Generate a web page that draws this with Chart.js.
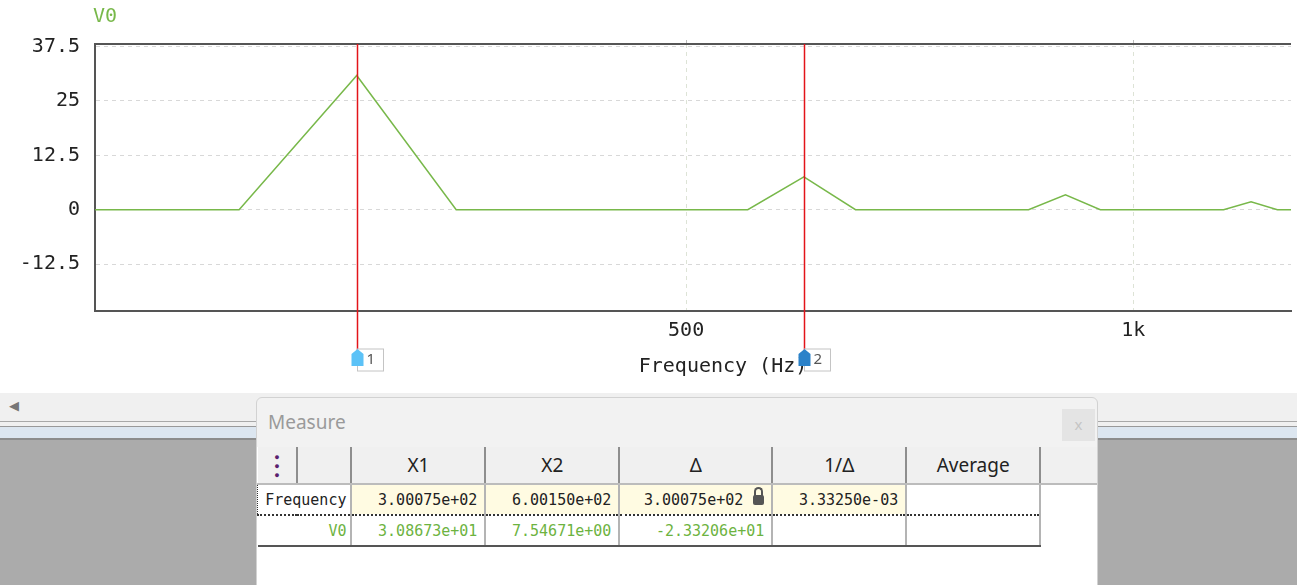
<!DOCTYPE html>
<html>
<head>
<meta charset="utf-8">
<script src="https://cdn.jsdelivr.net/npm/chart.js@4.4.1/dist/chart.umd.min.js"></script>
<style>
    body { margin: 0; width: 1297px; height: 585px; overflow: hidden; background: #fff; position: relative; font-family: 'Noto Sans', sans-serif; }
    #plot { position: absolute; left: 0; top: 0; }
    #strip { position: absolute; left: 0; top: 393px; width: 1297px; height: 47px; background: #f0f0f0; }
    #strip .arrow { position: absolute; left: 9px; top: 3px; color: #777; font-size: 13px; }
    #strip .l1 { position: absolute; left: 0; top: 28px; width: 100%; height: 1px; background: #a8a8a8; }
    #strip .l2 { position: absolute; left: 0; top: 33px; width: 100%; height: 1px; background: #999; }
    #strip .blue { position: absolute; left: 0; top: 34px; width: 100%; height: 11px; background: #dce6f0; }
    #strip .l3 { position: absolute; left: 0; top: 45px; width: 100%; height: 2px; background: #8c8c8c; }
    #greybg { position: absolute; left: 0; top: 440px; width: 1297px; height: 145px; background: #ababab; }
    #dialog { position: absolute; left: 256px; top: 397px; width: 840px; height: 200px; background: #f2f2f2; border: 1px solid #d2d2d2; border-radius: 6px 6px 0 0; }
    #dialog .title { position: absolute; left: 11px; top: 11px; font-size: 19px; color: #9a9a9a; }
    #dialog .close { position: absolute; left: 805px; top: 11px; width: 33px; height: 32px; background: #e4e4e4; color: #c4c4c4; font-size: 15px; text-align: center; line-height: 30px; }
    #tableArea { position: absolute; left: 0; top: 49px; width: 840px; height: 150px; background: #fff; }
    table { border-collapse: collapse; table-layout: fixed; position: absolute; left: 0; top: 0; }
    th { height: 36px; background: #f0f0f0; font-weight: normal; font-size: 19px; color: #222; border-right: 2px solid #8e8e8e; border-bottom: 2px solid #bcbcbc; padding: 0; }
    td { height: 29px; font-family: 'DejaVu Sans Mono', monospace; font-size: 15px; text-align: right; padding: 0 7px 0 0; border-right: 2px solid #b4b4b4; white-space: nowrap; position: relative; }
    tr.r1 td { background: #fffbe2; color: #222; border-top: 1px dotted #333; border-bottom: 2px dotted #333; }
    tr.r1 td.name, tr.r1 td.blank { background: #fff; }
    tr.r1 td.name { padding-right: 4px; border-left: 1px dotted #333; }
    tr.r2 td { color: #6db33f; border-bottom: 2px solid #555; }
    tr.r2 td.name { padding-right: 4px; }
    .dots { color: #5a1f6e; font-size: 9px; line-height: 9px; }
    .lock { position: absolute; right: 7px; top: 10px; width: 11px; height: 10px; background: #555; border-radius: 2px; }
    .lock:before { content: ''; position: absolute; left: 1px; top: -8px; width: 5px; height: 7px; border: 2px solid #555; border-bottom: none; border-radius: 5px 5px 0 0; }
</style>
</head>
<body>
<canvas id="plot" width="1297" height="393"></canvas>

<div id="strip">
    <div class="arrow">&#9664;</div>
    <div class="l1"></div>
    <div class="l2"></div>
    <div class="blue"></div>
    <div class="l3"></div>
</div>
<div id="greybg"></div>

<div id="dialog">
    <div class="title">Measure</div>
    <div class="close">x</div>
    <div id="tableArea">
        <table>
            <colgroup>
                <col style="width:40px"><col style="width:54px"><col style="width:134px"><col style="width:134px">
                <col style="width:153px"><col style="width:134px"><col style="width:134px"><col style="width:57px">
            </colgroup>
            <tr>
                <th class="dots">&#9679;<br>&#9679;<br>&#9679;</th><th></th><th>X1</th><th>X2</th><th>&Delta;</th><th>1/&Delta;</th><th>Average</th><th style="border-right:none"></th>
            </tr>
            <tr class="r1">
                <td class="name" colspan="2">Frequency</td><td>3.00075e+02</td><td>6.00150e+02</td>
                <td style="padding-right:28px">3.00075e+02<span class="lock"></span></td><td>3.33250e-03</td><td class="blank"></td>
                <td style="border:none;background:#fff"></td>
            </tr>
            <tr class="r2">
                <td class="name" colspan="2">V0</td><td>3.08673e+01</td><td>7.54671e+00</td>
                <td>-2.33206e+01</td><td></td><td></td>
                <td style="border:none"></td>
            </tr>
        </table>
    </div>
</div>

<script>
// Spectrum data (Hz, V)
const freqs = [200.05, 250.06, 300.075, 350.09, 400.1, 450.11, 500.13, 550.14, 600.15, 650.16, 700.18, 750.19,
               800.2, 850.21, 900.23, 950.24, 1000.25, 1050.26, 1100.28, 1150.29, 1200.3, 1250.31, 1300.33];
const v0 = [0, 0, 30.8673, 0, 0, 0, 0, 0, 7.54671, 0, 0, 0,
            0, 0, 3.4, 0, 0, 0, 0, 0, 1.8, 0, 0];

const xTicks = [500, 1000];
const xTickLabels = ['500', '1k'];
const yTicks = [-12.5, 0, 12.5, 25, 37.5];

const cursorX = [300.075, 600.15];
const cursorLabels = ['1', '2'];
const cursorColors = ['#5cc2f7', '#2b82c9'];

const GREEN = '#78b84a';
const MONO = "'DejaVu Sans Mono', monospace";

// Frame top line, trace name, axis title and cursors
const overlay = {
    id: 'overlay',
    afterDatasetsDraw(chart) {
        const ctx = chart.ctx;
        const area = chart.chartArea;
        const x = chart.scales.x;
        ctx.save();

        ctx.strokeStyle = '#555';
        ctx.lineWidth = 2;
        ctx.beginPath();
        ctx.moveTo(area.left - 1, area.top);
        ctx.lineTo(area.right, area.top);
        ctx.stroke();

        ctx.strokeStyle = '#bbb';
        ctx.lineWidth = 1;
        xTicks.forEach(v => {
            const px = Math.round(x.getPixelForValue(v)) + 0.5;
            ctx.beginPath();
            ctx.moveTo(px, area.top - 4);
            ctx.lineTo(px, area.top - 1);
            ctx.stroke();
        });

        ctx.fillStyle = GREEN;
        ctx.font = '20px ' + MONO;
        ctx.textBaseline = 'middle';
        ctx.textAlign = 'left';
        ctx.fillText('V0', area.left - 2, 17);

        ctx.fillStyle = '#222';
        ctx.textAlign = 'center';
        ctx.fillText('Frequency (Hz)', 723, 367);

        cursorX.forEach((v, i) => {
            const px = Math.round(x.getPixelForValue(v)) + 0.5;
            ctx.strokeStyle = '#e3141a';
            ctx.lineWidth = 1.5;
            ctx.beginPath();
            ctx.moveTo(px, area.top);
            ctx.lineTo(px, 352);
            ctx.stroke();

            // label box
            ctx.fillStyle = '#fff';
            ctx.strokeStyle = '#c4c4c4';
            ctx.lineWidth = 1;
            ctx.fillRect(px, 349, 26, 22);
            ctx.strokeRect(px, 349, 26, 22);
            ctx.fillStyle = '#555';
            ctx.font = '15px "Noto Sans", sans-serif';
            ctx.textAlign = 'left';
            ctx.fillText(cursorLabels[i], px + 9, 360);

            // marker
            ctx.fillStyle = cursorColors[i];
            ctx.beginPath();
            ctx.moveTo(px, 349);
            ctx.lineTo(px + 6, 354);
            ctx.lineTo(px + 6, 366);
            ctx.lineTo(px - 6, 366);
            ctx.lineTo(px - 6, 354);
            ctx.closePath();
            ctx.fill();
        });
        ctx.restore();
    }
};

new Chart(document.getElementById('plot'), {
    type: 'line',
    data: {
        datasets: [{
            label: 'V0',
            data: freqs.map((f, i) => ({ x: f, y: v0[i] })),
            borderColor: GREEN,
            borderWidth: 1.5,
            pointRadius: 0,
            tension: 0,
            fill: false
        }]
    },
    options: {
        responsive: false,
        animation: false,
        devicePixelRatio: 1,
        layout: { padding: { top: 44, right: 6, left: 0, bottom: 0 } },
        plugins: {
            legend: { display: false },
            tooltip: { enabled: false }
        },
        scales: {
            x: {
                type: 'logarithmic',
                min: 200,
                max: 1277,
                afterBuildTicks: s => { s.ticks = xTicks.map(v => ({ value: v })); },
                afterFit: s => { s.height = 82; },
                ticks: {
                    autoSkip: false,
                    maxRotation: 0,
                    padding: 8,
                    color: '#222',
                    font: { family: MONO, size: 20 },
                    callback: (v, i) => xTickLabels[i]
                },
                grid: { color: '#dde3d6', drawTicks: false },
                border: { display: true, color: '#555', width: 2, dash: [4, 4] }
            },
            y: {
                min: -23.3,
                max: 38.1,
                afterBuildTicks: s => { s.ticks = yTicks.map(v => ({ value: v })); },
                afterFit: s => { s.width = 95; },
                ticks: {
                    padding: 15,
                    color: '#222',
                    font: { family: MONO, size: 20 },
                    callback: v => String(v)
                },
                grid: { color: '#d8d8d8', drawTicks: false },
                border: { display: true, color: '#555', width: 2, dash: [4, 4] }
            }
        }
    },
    plugins: [overlay]
});
</script>
</body>
</html>
